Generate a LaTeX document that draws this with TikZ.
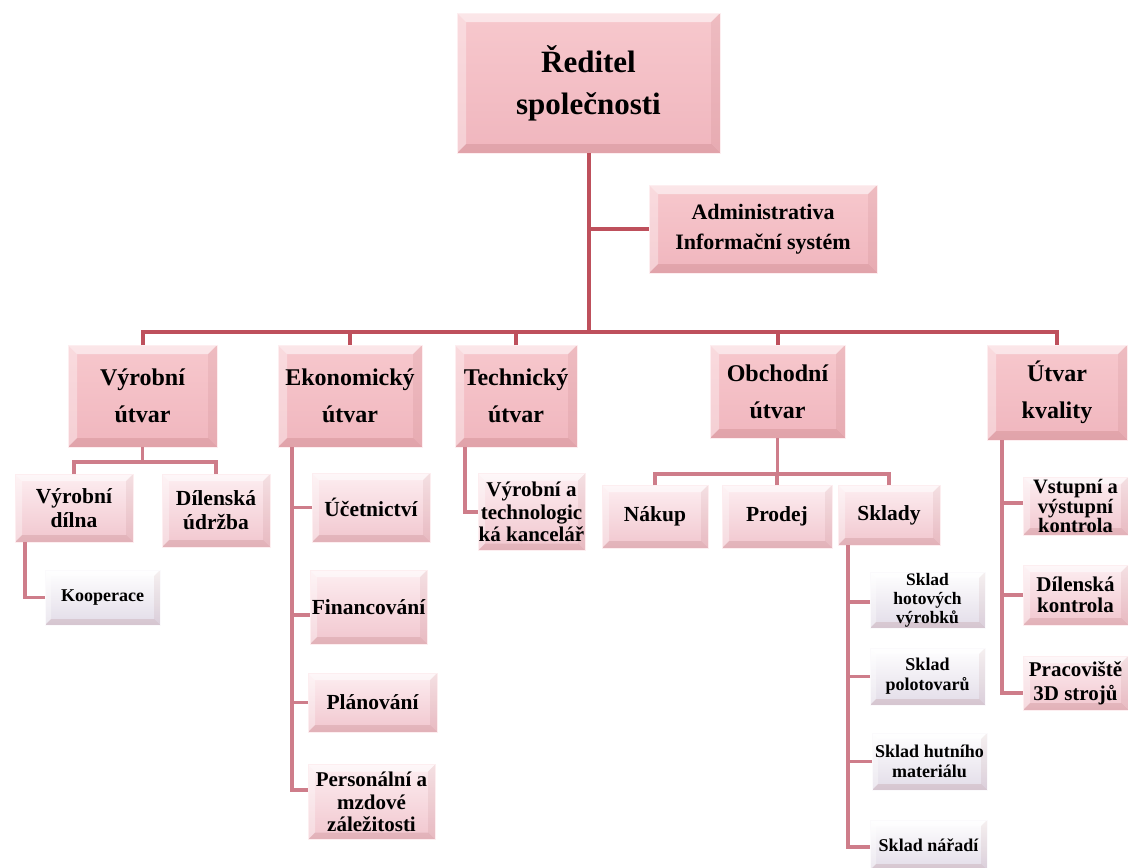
\documentclass[tikz,border=0pt]{standalone}
\usepackage{fontspec}
\setmainfont{Liberation Serif}
\usetikzlibrary{calc}
\definecolor{lnA}{RGB}{190,80,92}
\definecolor{lnB}{RGB}{206,125,138}
\definecolor{pinkA}{RGB}{247,200,205}
\definecolor{pinkB}{RGB}{240,182,190}
\definecolor{paleA}{RGB}{253,238,241}
\definecolor{paleB}{RGB}{241,198,206}
\definecolor{whiteB}{RGB}{226,220,232}
\tikzset{
  bevel/.style={path picture={
    \fill[white,opacity=.55] (path picture bounding box.north west) -- (path picture bounding box.north east)
      -- ([shift={(-#1pt,-#1pt)}]path picture bounding box.north east) -- ([shift={(#1pt,-#1pt)}]path picture bounding box.north west) -- cycle;
    \fill[white,opacity=.35] (path picture bounding box.north west) -- (path picture bounding box.south west)
      -- ([shift={(#1pt,#1pt)}]path picture bounding box.south west) -- ([shift={(#1pt,-#1pt)}]path picture bounding box.north west) -- cycle;
    \fill[black!60!red,opacity=.10] (path picture bounding box.south west) -- (path picture bounding box.south east)
      -- ([shift={(-#1pt,#1pt)}]path picture bounding box.south east) -- ([shift={(#1pt,#1pt)}]path picture bounding box.south west) -- cycle;
    \fill[black!60!red,opacity=.06] (path picture bounding box.north east) -- (path picture bounding box.south east)
      -- ([shift={(-#1pt,#1pt)}]path picture bounding box.south east) -- ([shift={(-#1pt,-#1pt)}]path picture bounding box.north east) -- cycle;
  }},
  bevel/.default=7,
  box/.style={rectangle, inner sep=0pt, outer sep=0pt, align=center, text=black,
    draw=white!70!pinkA, line width=0.6pt},
  lvlA/.style={box, top color=pinkA, bottom color=pinkB, bevel=9},
  lvlB/.style={box, top color=paleA, bottom color=paleB, bevel=7},
  lvlC/.style={box, top color=white, bottom color=whiteB, draw=white!85!whiteB, bevel=6},
  fA/.style={font=\fontsize{31}{42}\selectfont\bfseries},
  fAd/.style={font=\fontsize{22}{30}\selectfont\bfseries},
  fB/.style={font=\fontsize{24}{37}\selectfont\bfseries},
  fC/.style={font=\fontsize{21.5}{24}\selectfont\bfseries},
  fCt/.style={font=\fontsize{21}{22.5}\selectfont\bfseries},
  fD/.style={font=\fontsize{18}{20}\selectfont\bfseries},
  lineA/.style={draw=lnA, line width=4pt},
  lineB/.style={draw=lnB, line width=3.3pt},
}
\begin{document}
\begin{tikzpicture}[x=1pt,y=-1pt]
\useasboundingbox (0,0) rectangle (1128,868);
% top level
\node[lvlA,fA,minimum width=263,minimum height=140] (top) at (588.5,83) {Ředitel\\společnosti};
\node[lvlA,fAd,minimum width=228,minimum height=88] (adm) at (763,229) {Administrativa\\Informační systém};
% level 2
\node[lvlA,fB,minimum width=149,minimum height=102] (vyr) at (142.5,396) {Výrobní\\útvar};
\node[lvlA,fB,minimum width=144,minimum height=102] (eko) at (350,396) {Ekonomický\\útvar};
\node[lvlA,fB,minimum width=122,minimum height=102] (tech) at (516,396) {Technický\\útvar};
\node[lvlA,fB,minimum width=135,minimum height=93] (obch) at (777.5,391.5) {Obchodní\\útvar};
\node[lvlA,fB,minimum width=140,minimum height=95] (kval) at (1057,392.5) {Útvar\\kvality};
% Vyrobni children
\node[lvlB,fC,minimum width=118,minimum height=68] (dilna) at (74,508) {Výrobní\\dílna};
\node[lvlB,fC,minimum width=108,minimum height=73] (udrzba) at (216,510.5) {Dílenská\\údržba};
\node[lvlC,fD,minimum width=115,minimum height=55] (koop) at (102.5,597.5) {Kooperace};
% Ekonomicky children
\node[lvlB,fC,minimum width=118,minimum height=69] (ucet) at (371,507.5) {Účetnictví};
\node[lvlB,fC,minimum width=117,minimum height=74] (fin) at (368.5,607) {Financování};
\node[lvlB,fC,minimum width=129,minimum height=59] (plan) at (372.5,702.5) {Plánování};
\node[lvlB,fCt,minimum width=127,minimum height=75] (pers) at (371.5,802) {Personální a\\mzdové\\záležitosti};
% Technicky child
\node[lvlB,fCt,minimum width=107,minimum height=77] (tkanc) at (531.5,512) {Výrobní a\\technologic\\ká kancelář};
% Obchodni children
\node[lvlB,fC,minimum width=106,minimum height=63] (nakup) at (655,516.5) {Nákup};
\node[lvlB,fC,minimum width=110,minimum height=63] (prodej) at (777,516.5) {Prodej};
\node[lvlB,fC,minimum width=102,minimum height=60] (sklady) at (889,515) {Sklady};
% Sklady children
\node[lvlC,font=\fontsize{17.5}{19}\selectfont\bfseries,minimum width=115,minimum height=56] (skh) at (927.5,600) {Sklad\\hotových\\výrobků};
\node[lvlC,fD,minimum width=115,minimum height=57] (skp) at (927.5,676.5) {Sklad\\polotovarů};
\node[lvlC,fD,minimum width=115,minimum height=57] (skm) at (929.5,761.5) {Sklad hutního\\materiálu};
\node[lvlC,fD,minimum width=117,minimum height=50] (skn) at (928.5,845) {Sklad nářadí};
% Kvality children
\node[lvlB,font=\fontsize{20.5}{18.5}\selectfont\bfseries,minimum width=105,minimum height=58] (vst) at (1075.5,506) {Vstupní a\\výstupní\\kontrola};
\node[lvlB,font=\fontsize{21}{21}\selectfont\bfseries,minimum width=105,minimum height=60] (dk) at (1075.5,595) {Dílenská\\kontrola};
\node[lvlB,font=\fontsize{21}{24}\selectfont\bfseries,minimum width=105,minimum height=54] (prac) at (1075.5,683) {Pracoviště\\3D strojů};
% main connectors
\coordinate (bus) at (588.5,332);
\draw[lineA] (top.south) -- (bus);
\draw[lineA] (top.south |- adm.west) -- (adm.west);
\draw[lineA] (vyr.north) |- (bus) -| (kval.north);
\draw[lineA] (eko.north) -- (eko.north |- bus);
\draw[lineA] (tech.north) -- (tech.north |- bus);
\draw[lineA] (obch.north) -- (obch.north |- bus);
% Vyrobni
\draw[lineB] (vyr.south) -- ++(0,15) coordinate (vb);
\draw[lineB] (dilna.north) |- (vb) -| (udrzba.north);
\draw[lineB] ([xshift=10pt]dilna.south west) |- (koop.west);
% Ekonomicky
\coordinate (ekoX) at ([xshift=14pt]eko.south west);
\draw[lineB] (ekoX) |- ([yshift=12pt]pers.west);
\draw[lineB] (ucet.west) -- (ucet.west -| ekoX);
\draw[lineB] ([yshift=-8pt]fin.west) -- ([yshift=-8pt]fin.west -| ekoX);
\draw[lineB] (plan.west) -- (plan.west -| ekoX);
% Technicky
\draw[lineB] ([xshift=10pt]tech.south west) |- (tkanc.west);
% Obchodni
\draw[lineB] (obch.south) -- ++(0,36) coordinate (ob);
\draw[lineB] (nakup.north) |- (ob) -| (sklady.north);
\draw[lineB] (prodej.north) -- (prodej.north |- ob);
% Sklady
\coordinate (sX) at ([xshift=10pt]sklady.south west);
\draw[lineB] (sX) |- ([yshift=-2pt]skn.west);
\draw[lineB] ([yshift=-2pt]skh.west) -- ([yshift=-2pt]skh.west -| sX);
\draw[lineB] (skp.west) -- (skp.west -| sX);
\draw[lineB] (skm.west) -- (skm.west -| sX);
% Kvality
\coordinate (kX) at ([xshift=15pt]kval.south west);
\draw[lineB] (kX) |- ([yshift=-10pt]prac.west);
\draw[lineB] ([yshift=3pt]vst.west) -- ([yshift=3pt]vst.west -| kX);
\draw[lineB] (dk.west) -- (dk.west -| kX);
\end{tikzpicture}
\end{document}
